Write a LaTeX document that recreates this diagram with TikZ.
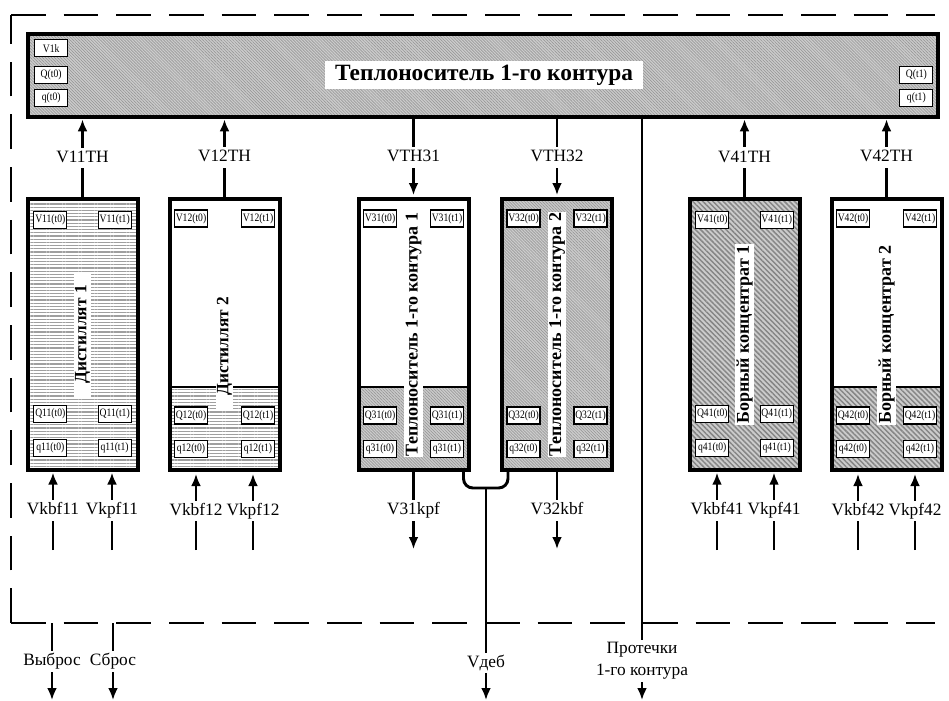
\documentclass[tikz,border=0pt]{standalone}
\usepackage{fontspec}
\setmainfont{Liberation Serif}
\newfontfamily\cellfont{Liberation Serif}[FakeStretch=0.85]
\usepackage{tikz}
\usetikzlibrary{arrows.meta}
\usetikzlibrary{patterns.meta}
\usetikzlibrary{calc}

\tikzset{
  tank/.style={draw, line width=3pt, minimum width=82.5pt, minimum height=203.25pt, inner sep=0pt},
  cell/.style={draw, line width=0.9pt, fill=white, minimum width=24.75pt, minimum height=12.75pt, inner sep=0pt, font=\cellfont\fontsize{8.5}{9}\selectfont},
  tanklabel/.style={fill=white, rotate=90, inner sep=1pt, font=\fontsize{13.5}{15}\selectfont\bfseries},
  lbl/.style={fill=white, inner sep=1.5pt, text height=9.5pt, text depth=3pt, font=\fontsize{13}{16.5}\selectfont},
  lbltwo/.style={fill=white, inner sep=1.5pt, align=center, font=\fontsize{13}{16.5}\selectfont},
  flow/.style={line width=2.2pt},
  flowarrow/.style={flow, -{Latex[length=9pt,width=7.5pt]}},
  frame/.style={line width=1.2pt, dash pattern=on 26pt off 13.5pt},
  hatchfine/.style={preaction={fill=gray!40}, pattern={Lines[angle=-45,distance=1.6pt,line width=0.5pt]}, pattern color=gray!80},
  hatchrows/.style={preaction={fill=white}, pattern={Lines[angle=0,distance=2.4pt,line width=1pt]}, pattern color=gray!75},
  hatchdiag/.style={preaction={fill=gray!40}, pattern={Lines[angle=-45,distance=2.7pt,line width=1.1pt]}, pattern color=gray!95},
  lowerpart/.style={path picture={
    \path[#1] (path picture bounding box.south west) rectangle ($(path picture bounding box.south east)+(0,-83)$);
    \draw[line width=2.2pt] ($(path picture bounding box.south west)+(0,-83)$) -- ($(path picture bounding box.south east)+(0,-83)$);}},
}

\begin{document}
\begin{tikzpicture}[x=0.75pt, y=-0.75pt]
\useasboundingbox (0,0) rectangle (949,700);

% dashed boundary
\draw[frame] (11,623) -- (11,15);
\draw[frame] (11,15) -- (935,15);
\draw[frame] (11,623) -- (935,623);

% primary coolant
\node[draw, line width=3pt, hatchfine, minimum width=682.5pt, minimum height=62.25pt, inner sep=0pt] (hdr) at (483,75.5) {};
\node[fill=white, inner xsep=7.5pt, inner ysep=3pt, font=\fontsize{17.5}{20}\selectfont\bfseries] (hdrlabel) at (484,75) {Теплоноситель 1-го контура};
\node[cell] (V1k) at ($(hdr.north west)+(23.5,14.5)$) {V1k};
\node[cell] (Qh0) at ($(hdr.north west)+(23.5,41.5)$) {Q(t0)};
\node[cell] (qh0) at ($(hdr.north west)+(23.5,64)$) {q(t0)};
\node[cell] (Qh1) at ($(hdr.north east)+(-22,41)$) {Q(t1)};
\node[cell] (qh1) at ($(hdr.north east)+(-22,64)$) {q(t1)};

% tanks
\node[tank, hatchrows] (t11) at (82.5,334.5) {};
\node[tank, fill=white, lowerpart=hatchrows] (t12) at (224.5,334.5) {};
\node[tank, fill=white, lowerpart=hatchfine] (t31) at (413.5,334.5) {};
\node[tank, hatchfine] (t32) at (557,334.5) {};
\node[tank, hatchdiag] (t41) at (744.5,334.5) {};
\node[tank, fill=white, lowerpart=hatchdiag] (t42) at (886.5,334.5) {};

\node[tanklabel, inner xsep=10pt, font=\fontsize{13}{15}\selectfont\bfseries] (l11) at (t11) {Дистиллят 1};
\node[tanklabel, inner xsep=10pt, font=\fontsize{13}{15}\selectfont\bfseries] (l12) at ($(t12)+(0,11.5)$) {Дистиллят 2};
\node[tanklabel] (l31) at (t31) {Теплоноситель 1-го контура 1};
\node[tanklabel] (l32) at (t32) {Теплоноситель 1-го контура 2};
\node[tanklabel] (l41) at (t41) {Борный концентрат 1};
\node[tanklabel] (l42) at (t42) {Борный концентрат 2};

% tank cells
\node[cell] (V11a) at ($(t11.north west)+(23.5,21.5)$) {V11(t0)};
\node[cell] (V11b) at ($(t11.north east)+(-23.5,21.5)$) {V11(t1)};
\node[cell] (Q11a) at ($(t11.south west)+(23.5,-56.5)$) {Q11(t0)};
\node[cell] (Q11b) at ($(t11.south east)+(-23.5,-56.5)$) {Q11(t1)};
\node[cell] (q11a) at ($(t11.south west)+(23.5,-23)$) {q11(t0)};
\node[cell] (q11b) at ($(t11.south east)+(-23.5,-23)$) {q11(t1)};

\node[cell] (V12a) at ($(t12.north west)+(23.5,21.5)$) {V12(t0)};
\node[cell] (V12b) at ($(t12.north east)+(-23.5,21.5)$) {V12(t1)};
\node[cell] (Q12a) at ($(t12.south west)+(23.5,-56.5)$) {Q12(t0)};
\node[cell] (Q12b) at ($(t12.south east)+(-23.5,-56.5)$) {Q12(t1)};
\node[cell] (q12a) at ($(t12.south west)+(23.5,-23)$) {q12(t0)};
\node[cell] (q12b) at ($(t12.south east)+(-23.5,-23)$) {q12(t1)};

\node[cell] (V31a) at ($(t31.north west)+(23.5,21.5)$) {V31(t0)};
\node[cell] (V31b) at ($(t31.north east)+(-23.5,21.5)$) {V31(t1)};
\node[cell] (Q31a) at ($(t31.south west)+(23.5,-56.5)$) {Q31(t0)};
\node[cell] (Q31b) at ($(t31.south east)+(-23.5,-56.5)$) {Q31(t1)};
\node[cell] (q31a) at ($(t31.south west)+(23.5,-23)$) {q31(t0)};
\node[cell] (q31b) at ($(t31.south east)+(-23.5,-23)$) {q31(t1)};

\node[cell] (V32a) at ($(t32.north west)+(23.5,21.5)$) {V32(t0)};
\node[cell] (V32b) at ($(t32.north east)+(-23.5,21.5)$) {V32(t1)};
\node[cell] (Q32a) at ($(t32.south west)+(23.5,-56.5)$) {Q32(t0)};
\node[cell] (Q32b) at ($(t32.south east)+(-23.5,-56.5)$) {Q32(t1)};
\node[cell] (q32a) at ($(t32.south west)+(23.5,-23)$) {q32(t0)};
\node[cell] (q32b) at ($(t32.south east)+(-23.5,-23)$) {q32(t1)};

\node[cell] (V41a) at ($(t41.north west)+(23.5,21.5)$) {V41(t0)};
\node[cell] (V41b) at ($(t41.north east)+(-23.5,21.5)$) {V41(t1)};
\node[cell] (Q41a) at ($(t41.south west)+(23.5,-56.5)$) {Q41(t0)};
\node[cell] (Q41b) at ($(t41.south east)+(-23.5,-56.5)$) {Q41(t1)};
\node[cell] (q41a) at ($(t41.south west)+(23.5,-23)$) {q41(t0)};
\node[cell] (q41b) at ($(t41.south east)+(-23.5,-23)$) {q41(t1)};

\node[cell] (V42a) at ($(t42.north west)+(23.5,21.5)$) {V42(t0)};
\node[cell] (V42b) at ($(t42.north east)+(-23.5,21.5)$) {V42(t1)};
\node[cell] (Q42a) at ($(t42.south west)+(23.5,-56.5)$) {Q42(t0)};
\node[cell] (Q42b) at ($(t42.south east)+(-23.5,-56.5)$) {Q42(t1)};
\node[cell] (q42a) at ($(t42.south west)+(23.5,-23)$) {q42(t0)};
\node[cell] (q42b) at ($(t42.south east)+(-23.5,-23)$) {q42(t1)};

% links to the coolant
\draw[flowarrow, shorten >=1.5pt] (t11.north) -- (t11.north |- hdr.south) node[midway, lbl] {V11TH};
\draw[flowarrow, shorten >=1.5pt] (t12.north) -- (t12.north |- hdr.south) node[midway, lbl] {V12TH};
\draw[flowarrow, shorten >=1.5pt] (t31.north |- hdr.south) -- (t31.north) node[midway, lbl] {VTH31};
\draw[flowarrow, shorten >=1.5pt] (t32.north |- hdr.south) -- (t32.north) node[midway, lbl] {VTH32};
\draw[flowarrow, shorten >=1.5pt] (t41.north) -- (t41.north |- hdr.south) node[midway, lbl] {V41TH};
\draw[flowarrow, shorten >=1.5pt] (t42.north) -- (t42.north |- hdr.south) node[midway, lbl] {V42TH};

% feeds
\coordinate (s11a) at (53,550);
\coordinate (s11b) at (112,550);
\coordinate (s12a) at (196,550);
\coordinate (s12b) at (253,550);
\coordinate (s41a) at (717,550);
\coordinate (s41b) at (774,550);
\coordinate (s42a) at (858,550);
\coordinate (s42b) at (915,550);
\draw[flowarrow, shorten >=1.5pt] (s11a) -- (s11a |- t11.south) node[midway, lbl] {Vkbf11};
\draw[flowarrow, shorten >=1.5pt] (s11b) -- (s11b |- t11.south) node[midway, lbl] {Vkpf11};
\draw[flowarrow, shorten >=1.5pt] (s12a) -- (s12a |- t12.south) node[midway, lbl] {Vkbf12};
\draw[flowarrow, shorten >=1.5pt] (s12b) -- (s12b |- t12.south) node[midway, lbl] {Vkpf12};
\draw[flowarrow, shorten >=1.5pt] (s41a) -- (s41a |- t41.south) node[midway, lbl] {Vkbf41};
\draw[flowarrow, shorten >=1.5pt] (s41b) -- (s41b |- t41.south) node[midway, lbl] {Vkpf41};
\draw[flowarrow, shorten >=1.5pt] (s42a) -- (s42a |- t42.south) node[midway, lbl] {Vkbf42};
\draw[flowarrow, shorten >=1.5pt] (s42b) -- (s42b |- t42.south) node[midway, lbl] {Vkpf42};

% drains
\coordinate (e31) at (413.5,549);
\coordinate (e32) at (557,549);
\draw[flowarrow] (t31.south) -- (e31) node[midway, lbl] {V31kpf};
\draw[flowarrow] (t32.south) -- (e32) node[midway, lbl] {V32kbf};

\coordinate (jn) at (486,488);
\coordinate (edeb) at (486,700);
\draw[flow, rounded corners=7pt] ($(t31.south east)+(-7,0)$) |- (jn) -| ($(t32.south west)+(8,0)$);
\draw[flowarrow] (jn) -- (edeb) node[pos=0.825, lbl] {Vдеб};

\coordinate (eleak) at (642,700);
\draw[flowarrow] (eleak |- hdr.south) -- (eleak) node[pos=0.933, lbltwo] {Протечки\\1-го контура};

\coordinate (svyb) at (52,623);
\coordinate (evyb) at (52,700);
\coordinate (ssbr) at (113,623);
\coordinate (esbr) at (113,700);
\draw[flowarrow] (svyb) -- (evyb) node[midway, lbl] {Выброс};
\draw[flowarrow] (ssbr) -- (esbr) node[midway, lbl] {Сброс};
\end{tikzpicture}
\end{document}
